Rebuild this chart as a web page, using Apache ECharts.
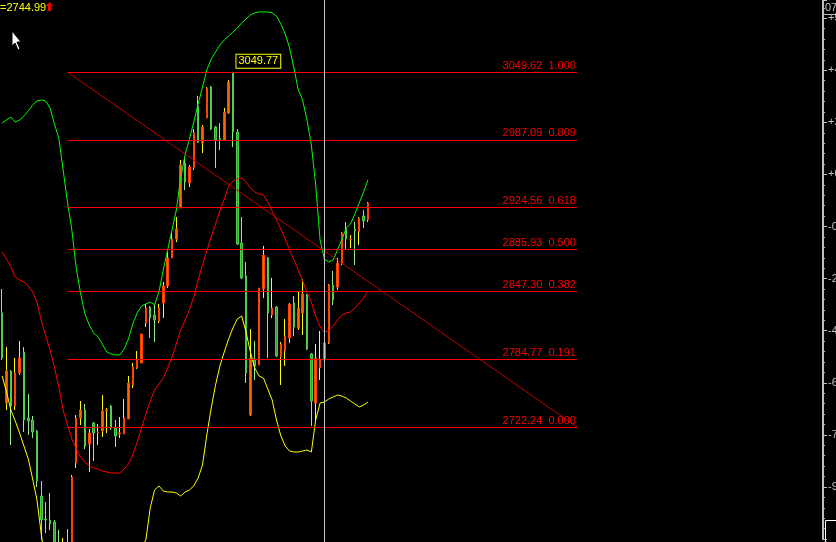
<!DOCTYPE html>
<html>
<head>
<meta charset="utf-8">
<title>fib chart</title>
<script src="https://cdn.jsdelivr.net/npm/echarts@6/dist/echarts.min.js"></script>
<style>
  html, body { margin: 0; padding: 0; background: #000; }
  #main { width: 836px; height: 542px; }
</style>
</head>
<body>
<div id="main"></div>
<script>
// bars, oldest first
var opens = [2827.38, 2744.39, 2773.89, 2741.62, 2772.05, 2791.42, 2730.55, 2728.71, 2718.56, 2658.62,
  2637.41, 2636.49, 2634.65, 2610.67, 2590.38, 2613.44, 2599.60, 2689.06, 2730.55, 2737.93,
  2706.58, 2725.94, 2716.72, 2718.56, 2737.01, 2741.62, 2721.33, 2715.80, 2715.80, 2729.63,
  2760.98, 2776.66, 2781.27, 2818.16, 2832.91, 2825.54, 2820.00, 2836.60, 2852.28, 2878.10,
  2895.62, 2924.21, 2965.71, 2947.26, 2961.10, 3018.27, 2984.15, 3007.20, 3035.79, 2998.90,
  2988.30, 2986.92, 3011.81, 3048.70, 2994.29, 2891.93, 2861.50, 2733.32, 2784.96, 2779.43,
  2849.51, 2878.10, 2825.54, 2832.91, 2786.81, 2792.34, 2804.33, 2836.60, 2813.55, 2827.38,
  2843.98, 2789.57, 2744.39, 2776.66, 2784.04, 2799.72, 2853.20, 2851.36, 2872.57, 2904.84,
  2895.16, 2904.84, 2902.08, 2916.83, 2913.14];
var closes = [2785.88, 2773.89, 2741.62, 2772.05, 2785.88, 2728.71, 2727.79, 2717.64, 2672.46, 2636.49,
  2636.49, 2632.80, 2613.44, 2599.60, 2608.83, 2599.60, 2676.14, 2730.55, 2737.93, 2704.73,
  2716.72, 2716.72, 2717.64, 2737.01, 2737.93, 2721.33, 2713.95, 2716.72, 2730.55, 2762.83,
  2777.58, 2784.04, 2808.02, 2831.99, 2822.77, 2820.93, 2831.99, 2852.28, 2878.10, 2895.62,
  2904.84, 2963.86, 2948.19, 2962.02, 2993.37, 2985.07, 2998.90, 3034.87, 2997.06, 2986.92,
  2987.38, 3012.74, 3040.40, 2994.29, 2891.01, 2859.66, 2772.05, 2785.88, 2778.51, 2850.44,
  2880.87, 2827.38, 2831.99, 2787.73, 2798.79, 2806.17, 2835.68, 2814.47, 2831.99, 2844.90,
  2794.18, 2746.23, 2785.88, 2784.96, 2799.72, 2853.20, 2839.37, 2873.49, 2901.15, 2895.62,
  2895.62, 2903.00, 2914.99, 2912.22, 2928.82];
var lows = [2784.04, 2737.93, 2705.65, 2737.93, 2770.21, 2717.64, 2714.88, 2712.11, 2666.92, 2618.05,
  2624.50, 2627.27, 2610.67, 2594.99, 2585.77, 2594.99, 2594.99, 2684.44, 2724.10, 2701.97,
  2680.76, 2690.90, 2705.65, 2713.03, 2716.72, 2719.49, 2703.81, 2712.11, 2715.80, 2729.63,
  2758.22, 2775.74, 2781.27, 2814.47, 2804.33, 2800.64, 2818.16, 2822.77, 2850.44, 2878.10,
  2892.85, 2924.21, 2940.81, 2943.57, 2959.25, 2984.15, 2974.93, 3007.20, 2996.14, 2961.10,
  2977.69, 2986.92, 3010.89, 2980.46, 2890.09, 2858.73, 2762.83, 2732.40, 2765.60, 2779.43,
  2841.21, 2785.88, 2822.77, 2786.81, 2760.98, 2778.51, 2799.72, 2806.17, 2811.70, 2807.09,
  2793.26, 2723.18, 2728.71, 2765.60, 2767.44, 2798.79, 2834.76, 2848.59, 2871.64, 2886.40,
  2887.32, 2871.64, 2890.09, 2905.77, 2911.30];
var highs = [2849.51, 2796.02, 2774.82, 2785.88, 2801.56, 2796.02, 2752.69, 2732.40, 2719.49, 2672.46,
  2653.09, 2661.39, 2636.49, 2627.27, 2619.89, 2628.19, 2677.99, 2733.32, 2746.23, 2743.46,
  2720.41, 2726.86, 2725.02, 2751.76, 2739.77, 2742.54, 2728.71, 2731.47, 2748.07, 2769.28,
  2781.27, 2792.34, 2808.02, 2835.68, 2833.84, 2834.76, 2835.68, 2855.97, 2883.63, 2901.15,
  2915.91, 2968.47, 2971.24, 2963.86, 2997.06, 3027.49, 3000.75, 3035.79, 3036.71, 2999.83,
  3002.59, 3016.43, 3042.25, 3049.77, 2997.06, 2915.91, 2874.41, 2812.63, 2801.56, 2850.44,
  2889.17, 2879.02, 2859.66, 2833.84, 2800.64, 2821.85, 2836.60, 2843.06, 2846.75, 2858.73,
  2844.90, 2790.49, 2798.79, 2810.78, 2801.56, 2854.12, 2866.11, 2878.10, 2902.08, 2911.30,
  2899.31, 2911.30, 2915.91, 2922.36, 2929.74];

// bollinger bands
var upperBand = [3002.6, 3005.4, 3008.1, 3003.5, 3005.4, 3009.1, 3013.7, 3019.2, 3022.9, 3023.8,
  3022.9, 3016.4, 3001.7, 2988.8, 2959.3, 2929.7, 2903.9, 2868.9, 2845.8, 2826.5,
  2816.3, 2808.9, 2805.3, 2798.8, 2791.4, 2789.6, 2788.7, 2788.7, 2794.2, 2803.4,
  2817.2, 2827.4, 2833.8, 2835.7, 2837.5, 2834.8, 2846.8, 2867.0, 2885.5, 2903.9,
  2922.4, 2951.9, 2973.1, 2987.8, 3003.5, 3020.1, 3035.8, 3051.5, 3061.6, 3068.1,
  3074.5, 3079.1, 3082.8, 3086.5, 3090.2, 3094.8, 3098.5, 3102.2, 3104.0, 3105.0,
  3105.0, 3105.0, 3104.0, 3101.3, 3093.9, 3084.7, 3071.8, 3053.3, 3033.0, 3023.8,
  3005.4, 2982.3, 2945.4, 2894.7, 2877.2, 2874.4, 2876.3, 2885.5, 2894.7, 2905.8,
  2909.5, 2918.7, 2928.8, 2939.0, 2950.0];
var midBand = [2883.6, 2877.2, 2869.8, 2860.6, 2857.8, 2856.0, 2852.3, 2846.8, 2837.5, 2820.0,
  2806.2, 2793.3, 2777.6, 2759.1, 2737.9, 2724.1, 2711.2, 2702.0, 2694.6, 2690.0,
  2686.3, 2684.4, 2683.5, 2681.7, 2680.8, 2679.8, 2679.8, 2679.8, 2683.5, 2688.1,
  2696.4, 2708.4, 2721.3, 2734.2, 2746.2, 2756.4, 2761.9, 2767.4, 2776.7, 2786.8,
  2798.8, 2811.7, 2820.9, 2830.2, 2842.1, 2857.8, 2871.6, 2884.6, 2897.5, 2909.5,
  2921.4, 2932.5, 2944.5, 2949.1, 2951.0, 2951.9, 2948.2, 2942.7, 2939.0, 2937.1,
  2936.2, 2929.7, 2921.4, 2913.1, 2904.8, 2895.6, 2885.5, 2876.3, 2867.0, 2856.9,
  2846.8, 2837.5, 2824.6, 2814.5, 2809.9, 2810.8, 2815.4, 2820.9, 2825.5, 2827.4,
  2828.3, 2832.0, 2836.6, 2841.2, 2847.7];
var lowerBand = [2769.3, 2754.5, 2737.9, 2727.8, 2716.7, 2704.7, 2692.7, 2674.3, 2654.9, 2622.7,
  2595.0, 2571.9, 2553.5, 2539.7, 2530.4, 2525.8, 2521.2, 2518.5, 2516.6, 2516.6,
  2518.5, 2521.2, 2525.8, 2533.2, 2542.4, 2553.5, 2564.6, 2574.7, 2583.9, 2592.2,
  2599.6, 2606.1, 2611.6, 2618.1, 2647.6, 2664.2, 2667.9, 2663.2, 2662.3, 2662.3,
  2661.4, 2658.6, 2662.3, 2664.2, 2667.9, 2675.2, 2687.2, 2714.9, 2739.8, 2761.0,
  2778.5, 2791.4, 2803.4, 2813.6, 2821.9, 2824.6, 2809.9, 2791.4, 2776.7, 2769.3,
  2767.4, 2757.3, 2747.2, 2728.7, 2714.0, 2704.7, 2700.1, 2699.2, 2699.2, 2700.1,
  2701.0, 2699.2, 2728.7, 2744.4, 2745.3, 2748.1, 2749.9, 2751.8, 2750.8, 2749.0,
  2746.2, 2743.5, 2740.7, 2742.5, 2745.3];

// fibonacci retracement drawn between two bars
var fibPrices = [3049.62, 2987.09, 2924.56, 2885.93, 2847.30, 2784.77, 2722.24];
var fibRatios = ['1.000', '0.809', '0.618', '0.500', '0.382', '0.191', '0.000'];
var fibFrom = 15, fibTo = 132;

var cursorBar = 74;
var peakBar = 53, peakPrice = 3049.77;
var slotCount = 189;   // bar slots across the plot, incl. empty space on the right
var sideLabels = ['', '-9', '-7', '-6', '-4', '-2', '-0', '+0', '+2', '+4', '+5'];

var slots = [];
for (var i = 0; i < slotCount; i++) slots.push(String(i));

// wick series draws high/low, body series sits on top with its own colours
var wicks = [], bodies = [];
for (var i = 0; i < opens.length; i++) {
  wicks.push([opens[i], closes[i], lows[i], highs[i]]);
  bodies.push([opens[i], closes[i], Math.min(opens[i], closes[i]), Math.max(opens[i], closes[i])]);
}

var fibLines = fibPrices.map(function (p, k) {
  return [
    { coord: [fibFrom, p] },
    { coord: [fibTo, p], label: { show: true, formatter: p.toFixed(2) + '  ' + fibRatios[k] } }
  ];
});
fibLines.push([
  { coord: [fibFrom, fibPrices[0]] },
  { coord: [fibTo, fibPrices[fibPrices.length - 1]], label: { show: false }, lineStyle: { color: '#c00000' } }
]);

var font = 'Liberation Sans';
var myChart = echarts.init(document.getElementById('main'));

myChart.setOption({
  backgroundColor: '#000',
  animation: false,
  grid: [
    { left: 0, right: 13, top: 0, bottom: 0, outerBoundsMode: 'none' },
    { left: 0, right: 13, top: 0, bottom: 3, outerBoundsMode: 'none' }
  ],
  xAxis: [
    { type: 'category', data: slots, boundaryGap: true, show: false },
    { type: 'value', gridIndex: 1, min: 0, max: 1, show: false }
  ],
  yAxis: [
    { type: 'value', min: 2616.2, max: 3116.02, show: false, splitLine: { show: false } },
    {
      type: 'value', gridIndex: 1, position: 'right', min: 0, max: 10.35, interval: 1,
      axisLine: { show: true, onZero: false, lineStyle: { color: '#c0c0c0', width: 2 } },
      axisTick: { show: true, length: 4, lineStyle: { color: '#c0c0c0' } },
      minorTick: { show: true, splitNumber: 5, length: 2, lineStyle: { color: '#c0c0c0' } },
      splitLine: { show: false },
      axisLabel: {
        margin: 5, color: '#c0c0c0', fontSize: 11, fontFamily: font,
        formatter: function (v) {
          if (Math.abs(v - Math.round(v)) > 0.01) return '';
          return sideLabels[Math.round(v)] || '';
        }
      }
    }
  ],
  series: [
    {
      name: 'wick', type: 'candlestick', data: wicks, barWidth: 1, z: 2,
      itemStyle: { color: '#ffff00', color0: '#90ee90', borderColor: '#ffff00', borderColor0: '#90ee90', borderWidth: 1 }
    },
    {
      name: 'body', type: 'candlestick', data: bodies, barWidth: 2, z: 3,
      itemStyle: { color: '#ff6600', color0: '#30a030', borderColor: '#ff4400', borderColor0: '#4cd04c', borderWidth: 1 },
      markLine: {
        silent: true, symbol: ['none', 'none'], animation: false,
        lineStyle: { color: '#ff0000', width: 1, type: 'solid' },
        label: { position: 'insideEndTop', distance: 1, color: '#ff0000', fontSize: 11, fontFamily: font },
        data: fibLines.concat([
          { xAxis: slots[cursorBar], label: { show: false }, lineStyle: { color: '#c8c8c8' } }
        ])
      },
      markPoint: {
        symbol: 'rect', symbolSize: 1, itemStyle: { color: 'rgba(0,0,0,0)' },
        data: [{ coord: [peakBar, peakPrice], value: peakPrice }],
        label: {
          show: true, position: 'right', distance: 3, offset: [0, -10.5],
          formatter: '{c}', color: '#ffff00', fontSize: 11, fontFamily: font,
          backgroundColor: '#000', borderColor: '#ffff00', borderWidth: 1, padding: [1, 2]
        }
      }
    },
    { name: 'upper', type: 'line', data: upperBand, symbol: 'none', z: 4, lineStyle: { color: '#00ff00', width: 1 } },
    { name: 'mid', type: 'line', data: midBand, symbol: 'none', z: 4, lineStyle: { color: '#ff0000', width: 1 } },
    { name: 'lower', type: 'line', data: lowerBand, symbol: 'none', z: 4, lineStyle: { color: '#ffff00', width: 1 } }
  ],
  graphic: [
    { type: 'text', left: 0, top: 2, style: { text: '=2744.99', fill: '#ffff00', font: '11px ' + font } },
    { type: 'polygon', shape: { points: [[49.5, 2], [53, 6], [51, 6], [51, 11], [48, 11], [48, 6], [46, 6]] }, style: { fill: '#ff0000' } },
    { type: 'polygon', shape: { points: [[12, 31], [12, 46], [15, 43], [18, 50], [20, 49], [17, 42], [21, 42]] }, style: { fill: '#fff', stroke: '#000', lineWidth: 1 } },
    { type: 'text', left: 825, top: 2, style: { text: '07', fill: '#c0c0c0', font: '11px ' + font } },
    { type: 'line', shape: { x1: 823, y1: 14.5, x2: 836, y2: 14.5 }, style: { stroke: '#c0c0c0', lineWidth: 1 } },
    { type: 'rect', shape: { x: 825.5, y: 520.5, width: 12, height: 24 }, style: { fill: 'none', stroke: '#fff', lineWidth: 1 } }
  ]
});
</script>
</body>
</html>
